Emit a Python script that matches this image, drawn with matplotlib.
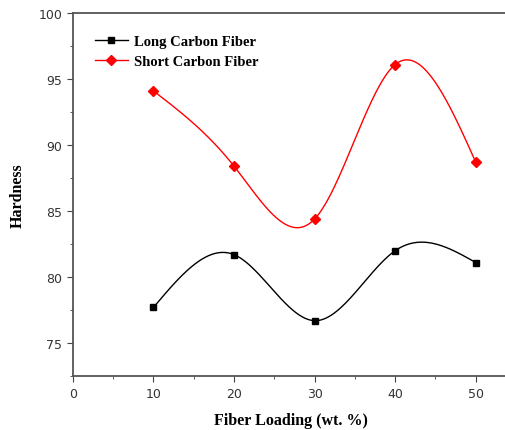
"""Hardness vs fiber loading for long and short carbon fiber"""

import numpy as np
import matplotlib
matplotlib.use('Agg')
import matplotlib.pyplot as plt
from matplotlib.ticker import MultipleLocator

loading = [10, 20, 30, 40, 50]
long_fiber = [77.7, 81.7, 76.7, 82.0, 81.1]
short_fiber = [94.1, 88.4, 84.4, 96.1, 88.7]
series_names = ['Long Carbon Fiber', 'Short Carbon Fiber']


def natural_spline(x, y, n=300):
    # natural cubic spline through the points, for the smooth connecting line
    x = np.asarray(x, float); y = np.asarray(y, float)
    h = np.diff(x); m = len(x)
    A = np.zeros((m, m)); r = np.zeros(m)
    A[0, 0] = A[-1, -1] = 1
    for i in range(1, m - 1):
        A[i, i - 1], A[i, i], A[i, i + 1] = h[i - 1], 2 * (h[i - 1] + h[i]), h[i]
        r[i] = 6 * ((y[i + 1] - y[i]) / h[i] - (y[i] - y[i - 1]) / h[i - 1])
    M = np.linalg.solve(A, r)
    xs = np.linspace(x[0], x[-1], n)
    k = np.clip(np.searchsorted(x, xs) - 1, 0, m - 2)
    t0, t1 = xs - x[k], x[k + 1] - xs; hk = h[k]
    ys = (M[k] * t1**3 + M[k + 1] * t0**3) / (6 * hk) \
        + (y[k] / hk - M[k] * hk / 6) * t1 + (y[k + 1] / hk - M[k + 1] * hk / 6) * t0
    return xs, ys


fig = plt.figure(figsize=(5.06, 4.31), dpi=100)
ax = fig.add_axes([0.144, 0.125, 0.86, 0.8425])

for vals, col, mk, name in [(long_fiber, 'black', 's', series_names[0]),
                            (short_fiber, 'red', 'D', series_names[1])]:
    xs, ys = natural_spline(loading, vals)
    ax.plot(xs, ys, color=col, lw=1.0)
    ax.plot(loading, vals, ls='none', marker=mk, color=col, ms=5)
    ax.plot([], [], color=col, marker=mk, ms=5, lw=1.0, label=name)

ax.set_xlim(0, 54); ax.set_ylim(72.5, 100)
ax.xaxis.set_major_locator(MultipleLocator(10)); ax.xaxis.set_minor_locator(MultipleLocator(5))
ax.yaxis.set_major_locator(MultipleLocator(5)); ax.yaxis.set_minor_locator(MultipleLocator(2.5))
ax.tick_params(which='both', direction='out', labelsize=9, colors='#444444', labelcolor='#333333')
ax.tick_params(which='major', length=4); ax.tick_params(which='minor', length=2.5)
ax.spines['right'].set_visible(False)
for s in ['left', 'bottom', 'top']:
    ax.spines[s].set_color('#555555'); ax.spines[s].set_linewidth(1.3)

lab = dict(family='Liberation Serif', weight='bold', size=11.5)
ax.set_xlabel('Fiber Loading (wt. %)', labelpad=9, **lab)
ax.set_ylabel('Hardness', labelpad=9, **lab)
ax.legend(loc='upper left', bbox_to_anchor=(0.02, 0.975), frameon=False,
          prop=dict(family='Liberation Serif', weight='bold', size=10.5),
          handlelength=2.3, handletextpad=0.4, labelspacing=0.45)

plt.savefig('out.png', dpi=100)
